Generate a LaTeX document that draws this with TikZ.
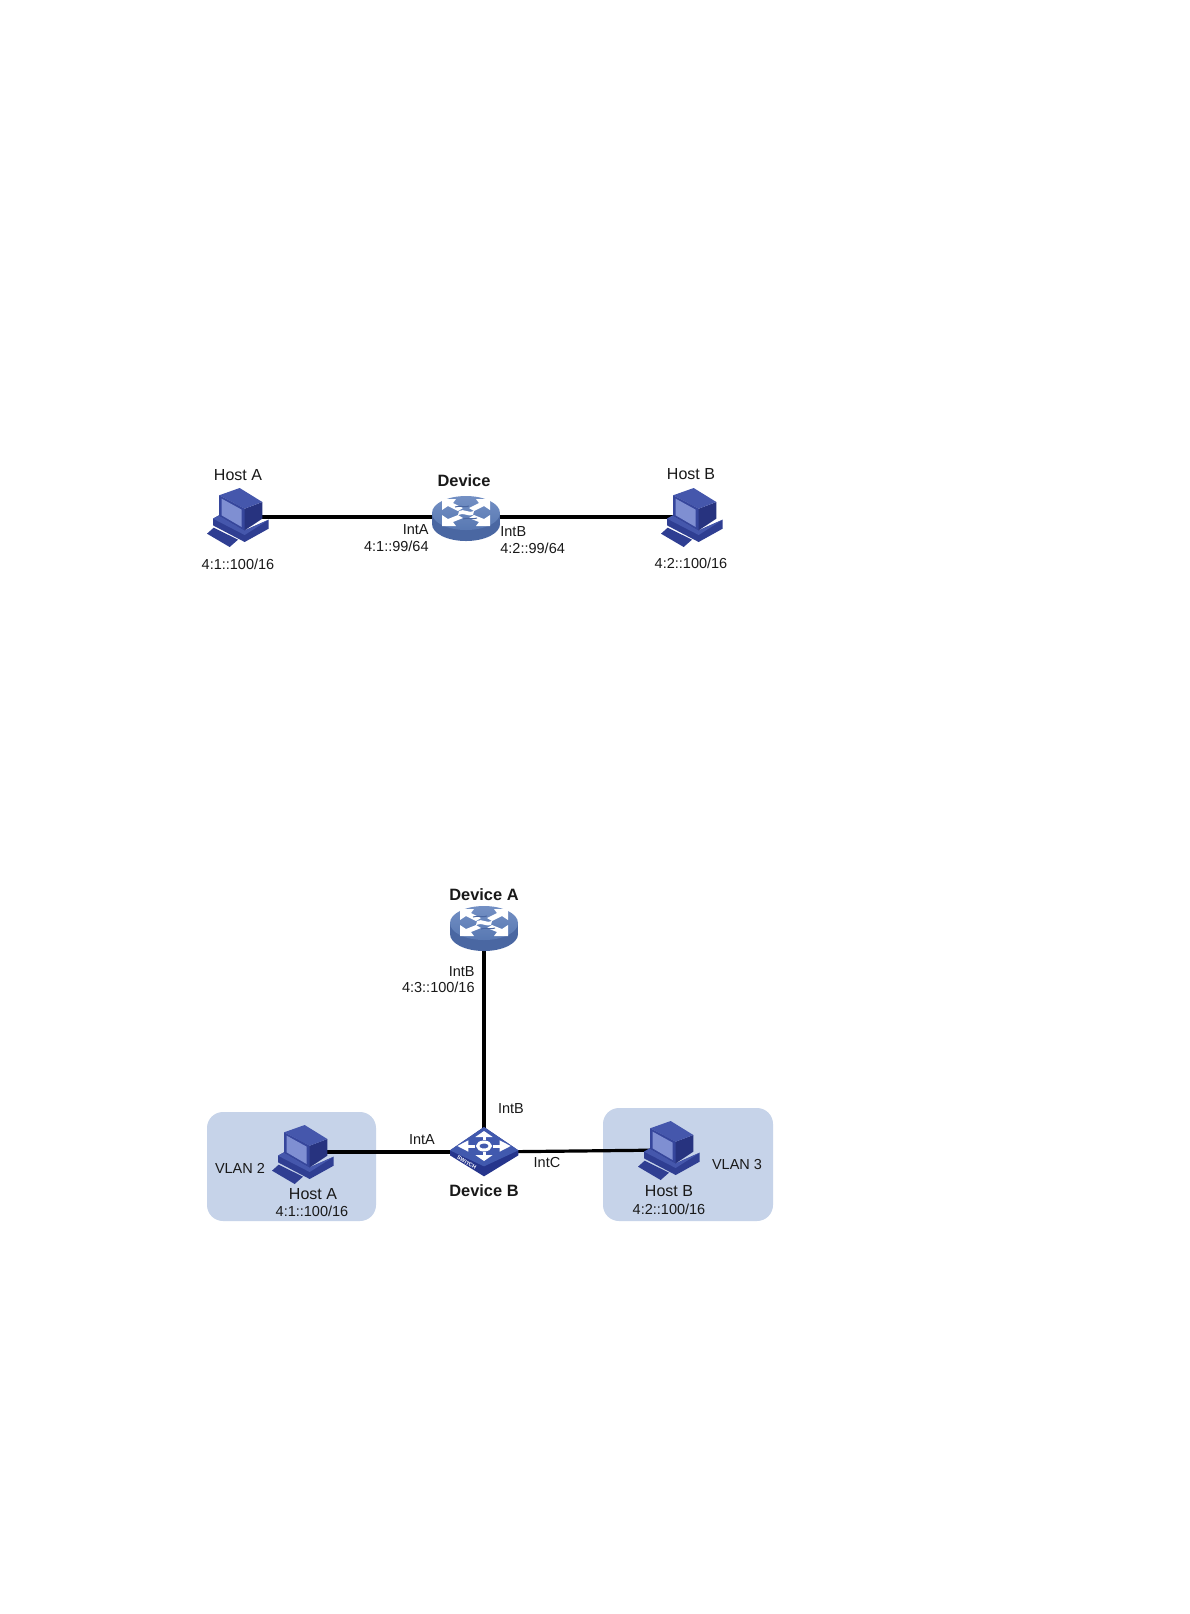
\documentclass[tikz,border=0pt]{standalone}
\usepackage{fontspec}
\setmainfont{Liberation Sans}
\definecolor{vlanbg}{HTML}{C6D3E9}
\definecolor{hostface}{HTML}{36469C}
\definecolor{hosttop}{HTML}{4557AC}
\definecolor{hostside}{HTML}{27337F}
\definecolor{hostscreen}{HTML}{7F8FD2}
\definecolor{hostbase}{HTML}{2F3E92}
\definecolor{rtop}{HTML}{7490C4}
\definecolor{rbot}{HTML}{5878B2}
\definecolor{rside}{HTML}{4A67A2}
\definecolor{swtop}{HTML}{4159AE}
\definecolor{swside}{HTML}{26358C}
\tikzset{
  lbl/.style={font=\fontsize{7.25pt}{8pt}\selectfont,inner sep=0pt,text=black!90},
  lblh/.style={font=\fontsize{8pt}{9pt}\selectfont,inner sep=0pt,text=black!90},
  lblb/.style={font=\fontsize{8.2pt}{9pt}\selectfont\bfseries,inner sep=0pt,text=black!90},
  anchorpt/.style={inner sep=0pt,minimum size=0pt},
  link/.style={draw=black,line width=1.6pt},
  vlanbox/.style={fill=vlanbg,draw=none,rounded corners=8pt},
  pics/hostpc/.style={code={
    \begin{scope}[x=0.16667pt,y=-0.16667pt,shift={(-145,-200)}]
      \fill[hostbase] (52,250)--(72,232)--(145,268)--(120,290)--cycle;
      \fill[hostbase] (70,205)--(88,195)--(165,240)--(237,208)--(237,235)--(165,275)--(70,225)--cycle;
      \fill[hosttop] (70,205)--(88,195)--(165,240)--(237,208)--(165,254)--cycle;
      \fill[hostside] (88,135)--(165,175)--(218,155)--(218,205)--(165,240)--(88,195)--cycle;
      \fill[hostface] (88,135)--(165,175)--(165,240)--(88,195)--cycle;
      \fill[hosttop] (88,135)--(150,113)--(218,155)--(165,175)--cycle;
      \fill[hostscreen] (96,145)--(156,178)--(156,230)--(96,195)--cycle;
    \end{scope}
  }},
  pics/routericon/.style={code={
    \begin{scope}[x=0.5pt,y=-0.5pt,shift={(0,-4)}]
      \fill[rside] (0,11) ellipse [x radius=17pt,y radius=8.5pt];
      \fill[rside] (-34,0) rectangle (34,11);
      \shade[top color=rtop,bottom color=rbot] (0,0) ellipse [x radius=17pt,y radius=8.5pt];
      \fill[white] (-24,-14)--(-10,-14)--(-13,-10)--(-3,-5)--(-8,-2)--(-18,-7)--(-24,-3)--cycle;
      \fill[white] (24,-14)--(10,-14)--(13,-10)--(3,-5)--(8,-2)--(18,-7)--(24,-3)--cycle;
      \fill[white] (-24,13)--(-10,13)--(-13,9)--(-3,5)--(-8,2)--(-18,6)--(-24,2)--cycle;
      \fill[white] (24,13)--(10,13)--(13,9)--(3,5)--(8,2)--(18,6)--(24,2)--cycle;
      \fill[white] (-7,-2)..controls (-2,-5) and (3,1) .. (8,-2) -- (7,2) .. controls (2,4) and (-2,-1) .. (-8,2)--cycle;
      \draw[rside,line width=0.5pt] (-11,-6) .. controls (-6,-8) and (-2,-5) .. (3,-7);
      \draw[rside,line width=0.5pt] (11,5) .. controls (6,7) and (2,4) .. (-3,6);
    \end{scope}
  }},
  pics/switchicon/.style={code={
    \begin{scope}[x=0.16667pt,y=-0.16667pt,shift={(-852,-155)}]
      \fill[swside] (750,150)--(750,165)--(852,228)--(955,165)--(955,150)--(852,80)--cycle;
      \fill[swtop] (852,80)--(955,150)--(852,198)--(750,150)--cycle;
      \draw[white,line width=1.5pt] (852,137) ellipse [x radius=3.2pt,y radius=2pt];
      \draw[white,line width=1.5pt] (852,100)--(852,118) (852,156)--(852,172) (785,137)--(825,137) (879,137)--(919,137);
      \fill[white] (852,92)--(878,110)--(826,110)--cycle;
      \fill[white] (852,182)--(878,164)--(826,164)--cycle;
      \fill[white] (772,137)--(805,120)--(805,154)--cycle;
      \fill[white] (932,137)--(899,120)--(899,154)--cycle;
      \node[rotate=-30,text=white,inner sep=0pt,font=\fontsize{2.7pt}{3pt}\selectfont\bfseries] at (800,187) {SWITCH};
    \end{scope}
  }}
}
\begin{document}
\begin{tikzpicture}[x=0.5pt,y=-0.5pt]
\useasboundingbox (0,0) rectangle (1190,1614);
\fill[white] (0,0) rectangle (1190,1614);
% top diagram
\node[anchorpt] (h1) at (238,517) {};
\node[anchorpt] (d1) at (466,517) {};
\node[anchorpt] (h2) at (692,517) {};
\draw[link] (h1.center) -- (d1.center);
\draw[link] (d1.center) -- (h2.center);
\pic at (h1) {hostpc};
\pic at (d1) {routericon};
\pic at (h2) {hostpc};
\node[lblh] (t1) at (238,475) {Host A};
\node[lblb] (t2) at (464,481) {Device};
\node[lblh] (t3) at (691,474) {Host B};
\node[lbl,anchor=east] (t4) at (429,530) {IntA};
\node[lbl,anchor=east] (t5) at (429,546) {4:1::99/64};
\node[lbl,anchor=west] (t6) at (500,532) {IntB};
\node[lbl,anchor=west] (t7) at (500,548) {4:2::99/64};
\node[lbl] (t8) at (238,564) {4:1::100/16};
\node[lbl] (t9) at (691,563) {4:2::100/16};
% bottom diagram
\fill[vlanbox] (207,1112) rectangle (376,1221);
\fill[vlanbox] (603,1108) rectangle (773,1221);
\node[anchorpt] (da) at (484,927) {};
\node[anchorpt] (db) at (484,1152) {};
\node[anchorpt] (ha) at (303,1154) {};
\node[anchorpt] (hb) at (669,1150) {};
\draw[link] (da.center) -- (db.center);
\draw[link] (ha.center) ++(0,-2) -- (db.center);
\draw[link] (db.center) -- (hb.center);
\pic at (da) {routericon};
\pic at (db) {switchicon};
\pic at (ha) {hostpc};
\pic at (hb) {hostpc};
\node[lblb] (u1) at (484,895) {Device A};
\node[lbl,anchor=east] (u2) at (475,972) {IntB};
\node[lbl,anchor=east] (u3) at (475,987) {4:3::100/16};
\node[lbl] (u4) at (511,1109) {IntB};
\node[lbl] (u5) at (422,1140) {IntA};
\node[lbl] (u6) at (547,1162) {IntC};
\node[lbl] (u7) at (240,1168) {VLAN 2};
\node[lblh] (u8) at (313,1194) {Host A};
\node[lbl] (u9) at (312,1211) {4:1::100/16};
\node[lblb] (u10) at (484,1191) {Device B};
\node[lbl] (u11) at (737,1164) {VLAN 3};
\node[lblh] (u12) at (669,1191) {Host B};
\node[lbl] (u13) at (669,1209) {4:2::100/16};
\end{tikzpicture}
\end{document}
